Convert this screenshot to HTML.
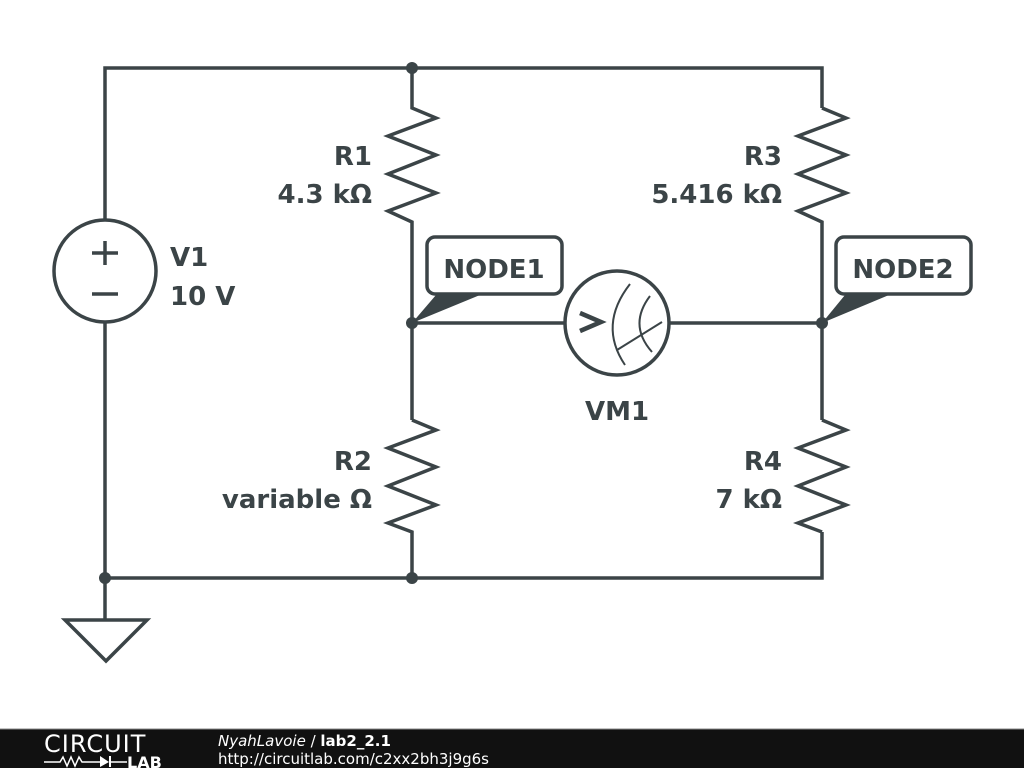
<!DOCTYPE html>
<html><head><meta charset="utf-8"><style>
html,body{margin:0;padding:0;background:#fff;width:1024px;height:768px;overflow:hidden}
svg{display:block}
text{font-family:"DejaVu Sans","Liberation Sans",sans-serif}
</style></head><body>
<svg width="1024" height="768" viewBox="0 0 1024 768" xmlns="http://www.w3.org/2000/svg">
<g stroke="#3b4447" stroke-width="3.5" fill="none" stroke-linejoin="miter">
<polyline points="105,220 105,68 822,68 822,108"/>
<polyline points="105,322 105,578 822,578 822,532"/>
<line x1="105" y1="578" x2="105" y2="620"/>
<polygon points="65,620 147,620 106,661"/>
<circle cx="105" cy="271" r="51"/>
<line x1="92" y1="253" x2="118" y2="253"/><line x1="105" y1="241" x2="105" y2="265"/>
<line x1="92" y1="294" x2="118" y2="294"/>
<polyline points="412,68 412,108 436,118 388,136 436,155 388,174 436,193 388,211 412,222 412,420"/>
<polyline points="412,420 436,430 388,448 436,467 388,486 436,505 388,523 412,532 412,578"/>
<polyline points="822,108 846,118 798,136 846,155 798,174 846,193 798,211 822,222 822,420"/>
<polyline points="822,420 846,430 798,448 846,467 798,486 846,505 798,523 822,532"/>
<line x1="412" y1="323" x2="565" y2="323"/><line x1="669" y1="323" x2="822" y2="323"/>
<circle cx="617" cy="323" r="52"/>
<polyline points="580,313 601,322 580,331" stroke-width="4.5"/>
<path d="M630,284 Q598,325 625,365" stroke-width="2"/>
<path d="M650,296 Q628,325 652,352" stroke-width="2"/>
<line x1="617" y1="350" x2="662" y2="322" stroke-width="2"/>
<rect x="427" y="237" width="135" height="57" rx="8"/>
<rect x="836" y="237" width="135" height="57" rx="8"/>
</g>
<g fill="#3b4447">
<circle cx="412" cy="68" r="6"/><circle cx="412" cy="323" r="6"/><circle cx="822" cy="323" r="6"/>
<circle cx="105" cy="578" r="6"/><circle cx="412" cy="578" r="6"/>
<polygon points="436,295 480,295 412,323"/>
<polygon points="845,295 889,295 822,323"/>
</g>
<g fill="#3b4447" font-weight="bold" font-size="26">
<text x="372" y="165" text-anchor="end">R1</text><text x="372" y="203" text-anchor="end">4.3 kΩ</text>
<text x="782" y="165" text-anchor="end">R3</text><text x="782" y="203" text-anchor="end">5.416 kΩ</text>
<text x="372" y="470" text-anchor="end">R2</text><text x="372" y="508" text-anchor="end">variable Ω</text>
<text x="782" y="470" text-anchor="end">R4</text><text x="782" y="508" text-anchor="end">7 kΩ</text>
<text x="170" y="266">V1</text><text x="170" y="305">10 V</text>
<text x="617" y="420" text-anchor="middle">VM1</text>
<text x="494" y="278" text-anchor="middle">NODE1</text>
<text x="903" y="278" text-anchor="middle">NODE2</text>
</g>
<rect x="0" y="729" width="1024" height="39" fill="#111"/>
<line x1="0" y1="729" x2="1024" y2="729" stroke="#888" stroke-width="1"/>
<text x="44" y="752" fill="#fff" font-size="24" font-family="Liberation Sans" letter-spacing="1">CIRCUIT</text>
<polyline points="44,762 60,762 63,757 67,766 71,757 75,766 79,757 82,762 100,762" stroke="#fff" stroke-width="1.5" fill="none"/>
<polygon points="100,756 100,767 109,762" fill="#fff"/><line x1="110" y1="756" x2="110" y2="767" stroke="#fff" stroke-width="2"/>
<line x1="110" y1="762" x2="127" y2="762" stroke="#fff" stroke-width="1.5"/>
<text x="127" y="768" fill="#fff" font-size="16" font-weight="bold" font-family="Liberation Sans">LAB</text>
<text x="218" y="746" fill="#fff" font-size="15"><tspan font-style="italic">NyahLavoie</tspan> / <tspan font-weight="bold">lab2_2.1</tspan></text>
<text x="218" y="764" fill="#fff" font-size="15">http://circuitlab.com/c2xx2bh3j9g6s</text>
</svg>
</body></html>
